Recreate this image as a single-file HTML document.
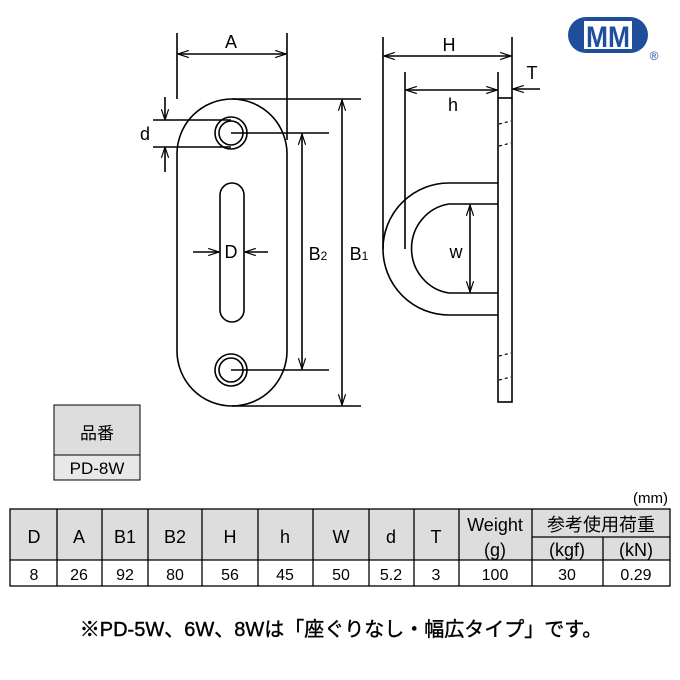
<!DOCTYPE html>
<html><head><meta charset="utf-8"><style>
html,body{margin:0;padding:0;background:#fff}
svg{display:block}
text{font-family:"Liberation Sans","Noto Sans CJK JP",sans-serif}
</style></head><body>
<svg width="680" height="680" viewBox="0 0 680 680" xmlns="http://www.w3.org/2000/svg">
<defs>
<marker id="a" viewBox="0 0 12 10" refX="12" refY="5" markerWidth="12" markerHeight="9" orient="auto-start-reverse" markerUnits="userSpaceOnUse">
<path d="M0,1 L12,5 L0,9" fill="none" stroke="#000" stroke-width="1.3"/></marker>
</defs>
<g stroke="#000" stroke-width="1.6" fill="none">
<rect x="177" y="99" width="110" height="307" rx="55" ry="55"/>
<circle cx="231" cy="133" r="16"/><circle cx="231" cy="133" r="12"/>
<circle cx="231" cy="370" r="16"/><circle cx="231" cy="370" r="12"/>
<rect x="220" y="183" width="24" height="139" rx="12" ry="12"/>
<line x1="177" y1="33" x2="177" y2="99"/><line x1="287" y1="33" x2="287" y2="140"/>
<line x1="178" y1="54" x2="286" y2="54" marker-start="url(#a)" marker-end="url(#a)"/>
<line x1="153" y1="120" x2="231" y2="120"/><line x1="153" y1="147" x2="231" y2="147"/>
<line x1="165" y1="97" x2="165" y2="120" marker-end="url(#a)"/>
<line x1="165" y1="172" x2="165" y2="147" marker-end="url(#a)"/>
<line x1="193" y1="252" x2="219" y2="252" marker-end="url(#a)"/>
<line x1="268" y1="252" x2="245" y2="252" marker-end="url(#a)"/>
<line x1="231" y1="133" x2="329" y2="133"/><line x1="231" y1="370" x2="329" y2="370"/>
<line x1="302" y1="134" x2="302" y2="369" marker-start="url(#a)" marker-end="url(#a)"/>
<line x1="232" y1="99" x2="361" y2="99"/><line x1="232" y1="406" x2="361" y2="406"/>
<line x1="342" y1="100" x2="342" y2="405" marker-start="url(#a)" marker-end="url(#a)"/>
<rect x="498" y="98" width="14" height="304"/>
<line x1="512" y1="37" x2="512" y2="98"/><line x1="498" y1="72" x2="498" y2="98"/>
<path d="M498,183 H449 A66,66 0 0 0 449,315 H498"/>
<path d="M498,204 H449 A44,45 0 0 0 449,293 H498"/>
<line x1="383" y1="37" x2="383" y2="249"/><line x1="405" y1="72" x2="405" y2="249"/>
<line x1="384" y1="56" x2="511" y2="56" marker-start="url(#a)" marker-end="url(#a)"/>
<line x1="406" y1="90" x2="497" y2="90" marker-start="url(#a)" marker-end="url(#a)"/>
<line x1="540" y1="89" x2="513" y2="89" marker-end="url(#a)"/>
<line x1="470" y1="205" x2="470" y2="292" marker-start="url(#a)" marker-end="url(#a)"/>
<g stroke-width="1.2" stroke-dasharray="3,3">
<line x1="499" y1="124" x2="511" y2="121"/><line x1="499" y1="146" x2="511" y2="143"/>
<line x1="499" y1="356" x2="511" y2="353"/><line x1="499" y1="380" x2="511" y2="377"/>
</g>
</g>
<g font-size="18" fill="#000" text-anchor="middle">
<text x="231" y="48">A</text>
<text x="145" y="140">d</text>
<text x="231" y="258">D</text>
<text x="318" y="260">B<tspan font-size="12">2</tspan></text>
<text x="359" y="260">B<tspan font-size="12">1</tspan></text>
<text x="449" y="51">H</text>
<text x="453" y="111">h</text>
<text x="532" y="79">T</text>
<text x="456" y="258">w</text>
</g>
<rect x="568" y="17" width="80" height="36" rx="18" ry="18" fill="#1f4e9c"/>
<rect x="584" y="21" width="48" height="28" fill="#fff"/>
<text x="608" y="47" font-size="30" font-weight="bold" fill="#1f4e9c" text-anchor="middle" textLength="44" lengthAdjust="spacingAndGlyphs">MM</text>
<text x="654" y="60" font-size="12" fill="#1f4e9c" text-anchor="middle">®</text>
<rect x="54" y="405" width="86" height="50" fill="#ddd" stroke="#000"/>
<rect x="54" y="455" width="86" height="25" fill="#e8e8e8" stroke="#000"/>
<text x="97" y="439" font-size="17" text-anchor="middle">品番</text>
<text x="97" y="474" font-size="17" text-anchor="middle" font-family="Liberation Mono,monospace">PD-8W</text>
<text x="668" y="503" font-size="15" text-anchor="end">(mm)</text>
<rect x="10" y="509" width="660" height="51" fill="#ddd"/>
<g stroke="#000" stroke-width="1.3" fill="none">
<rect x="10" y="509" width="660" height="77"/>
<line x1="10" y1="560" x2="670" y2="560"/>
<line x1="532" y1="537" x2="670" y2="537"/>
<line x1="57" y1="509" x2="57" y2="586"/><line x1="102" y1="509" x2="102" y2="586"/>
<line x1="148" y1="509" x2="148" y2="586"/><line x1="202" y1="509" x2="202" y2="586"/>
<line x1="258" y1="509" x2="258" y2="586"/><line x1="313" y1="509" x2="313" y2="586"/>
<line x1="369" y1="509" x2="369" y2="586"/><line x1="414" y1="509" x2="414" y2="586"/>
<line x1="459" y1="509" x2="459" y2="586"/><line x1="532" y1="509" x2="532" y2="586"/>
<line x1="603" y1="537" x2="603" y2="586"/>
</g>
<g font-size="18" text-anchor="middle">
<text x="34" y="543">D</text><text x="79" y="543">A</text><text x="125" y="543">B1</text>
<text x="175" y="543">B2</text><text x="230" y="543">H</text><text x="285" y="543">h</text>
<text x="341" y="543">W</text><text x="391" y="543">d</text><text x="436" y="543">T</text>
<text x="495" y="531">Weight</text><text x="495" y="556">(g)</text>
<text x="601" y="531">参考使用荷重</text>
<text x="567" y="556">(kgf)</text><text x="636" y="556">(kN)</text>
</g>
<g font-size="16" text-anchor="middle">
<text x="34" y="580">8</text><text x="79" y="580">26</text><text x="125" y="580">92</text>
<text x="175" y="580">80</text><text x="230" y="580">56</text><text x="285" y="580">45</text>
<text x="341" y="580">50</text><text x="391" y="580">5.2</text><text x="436" y="580">3</text>
<text x="495" y="580">100</text><text x="567" y="580">30</text><text x="636" y="580">0.29</text>
</g>
<text x="341" y="636" font-size="20" text-anchor="middle" stroke="#000" stroke-width="0.4">※PD-5W、6W、8Wは「座ぐりなし・幅広タイプ」です。</text>
</svg>
</body></html>
